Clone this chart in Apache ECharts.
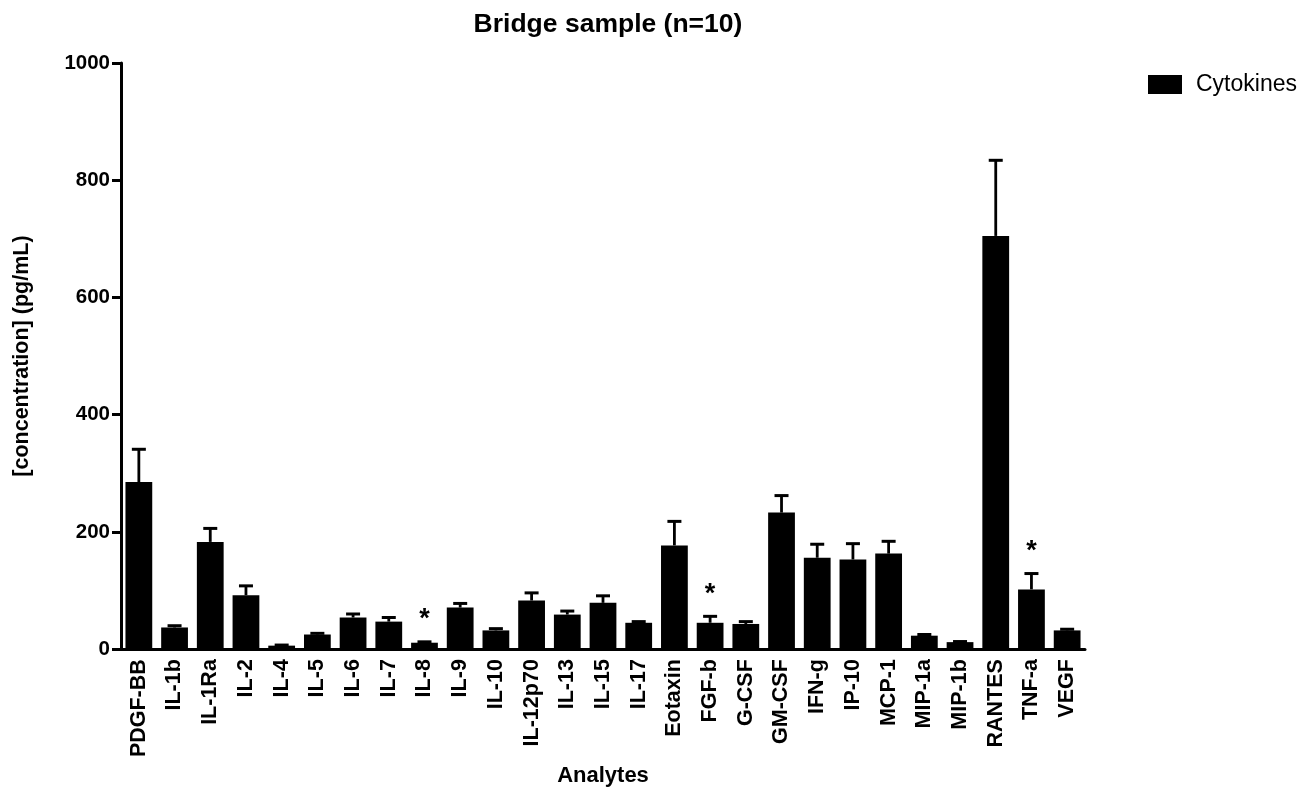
<!DOCTYPE html>
<html>
<head>
<meta charset="utf-8">
<title>Bridge sample</title>
<script src="https://cdn.jsdelivr.net/npm/echarts@6/dist/echarts.min.js"></script>
<style>
  html, body { margin: 0; padding: 0; background: #fff; }
  #chart { width: 1312px; height: 792px; }
</style>
</head>
<body>
<div id="chart"></div>
<script>
const analytes = ['PDGF-BB', 'IL-1b', 'IL-1Ra', 'IL-2', 'IL-4', 'IL-5', 'IL-6', 'IL-7', 'IL-8', 'IL-9',
  'IL-10', 'IL-12p70', 'IL-13', 'IL-15', 'IL-17', 'Eotaxin', 'FGF-b', 'G-CSF', 'GM-CSF', 'IFN-g',
  'IP-10', 'MCP-1', 'MIP-1a', 'MIP-1b', 'RANTES', 'TNF-a', 'VEGF']
const means = [285, 37, 183, 92, 6, 25, 54, 47, 11, 71,
  32, 83, 59, 79, 45, 177, 45, 43, 233, 156,
  153, 163, 23, 12, 705, 102, 32]
const errors = [56, 3, 23, 16, 1, 2, 6, 7, 1.5, 7,
  3, 13, 6, 12, 2, 41, 11, 4, 29, 23,
  27, 21, 2, 1, 129, 27, 2]
const starred = ['IL-8', 'FGF-b', 'TNF-a']
const yTicks = [0, 200, 400, 600, 800, 1000]

const font = 'Liberation Sans, Arial, sans-serif'
const chart = echarts.init(document.getElementById('chart'))

const option = {
  animation: false,
  title: {
    text: 'Bridge sample (n=10)',
    left: 603,
    top: 6,
    textAlign: 'center',
    textStyle: { fontFamily: font, fontSize: 26.5, fontWeight: 'bold', color: '#000' }
  },
  legend: {
    left: 1143,
    top: 68,
    itemWidth: 34,
    itemHeight: 19,
    icon: 'rect',
    data: ['Cytokines'],
    textStyle: { fontFamily: font, fontSize: 23, color: '#000', padding: [0, 0, 0, 9] }
  },
  grid: { left: 121, right: 227, top: 63, bottom: 142 },
  xAxis: {
    type: 'category',
    data: analytes,
    name: 'Analytes',
    nameLocation: 'middle',
    nameGap: 114,
    nameTextStyle: { fontFamily: font, fontSize: 22, fontWeight: 'bold', color: '#000' },
    axisLine: { lineStyle: { color: '#000', width: 3 } },
    axisTick: { alignWithLabel: true, length: 8, lineStyle: { color: '#000', width: 2.5 } },
    axisLabel: { rotate: 90, interval: 0, margin: 10, fontFamily: font, fontSize: 21.5, fontWeight: 'bold', color: '#000' }
  },
  yAxis: {
    type: 'value',
    min: yTicks[0],
    max: yTicks[yTicks.length - 1],
    interval: 200,
    name: '[concentration] (pg/mL)',
    nameLocation: 'middle',
    nameGap: 88,
    nameTextStyle: { fontFamily: font, fontSize: 21.5, fontWeight: 'bold', color: '#000' },
    axisLine: { show: true, lineStyle: { color: '#000', width: 3 } },
    axisTick: { show: true, length: 9, lineStyle: { color: '#000', width: 3 } },
    axisLabel: {
      margin: 11,
      fontFamily: font, fontSize: 20.5, fontWeight: 'bold', color: '#000',
      formatter: v => String(v)
    },
    splitLine: { show: false }
  },
  series: [
    {
      name: 'Cytokines',
      type: 'bar',
      data: means,
      barWidth: '75%',
      itemStyle: { color: '#000' }
    },
    {
      name: 'errors',
      type: 'custom',
      data: means.map((m, i) => [i, m, m + errors[i]]),
      z: 3,
      renderItem: function (params, api) {
        const i = api.value(0)
        const low = api.coord([i, api.value(1)])
        const high = api.coord([i, api.value(2)])
        const half = 7
        const children = [
          { type: 'line', shape: { x1: low[0], y1: low[1], x2: high[0], y2: high[1] }, style: { stroke: '#000', lineWidth: 2.8 } },
          { type: 'line', shape: { x1: high[0] - half, y1: high[1], x2: high[0] + half, y2: high[1] }, style: { stroke: '#000', lineWidth: 3 } }
        ]
        if (starred.indexOf(analytes[i]) >= 0) {
          children.push({
            type: 'text',
            style: { text: '*', x: high[0], y: high[1] - 22, align: 'center', verticalAlign: 'middle', fontFamily: font, fontSize: 27, fontWeight: 'bold', fill: '#000' }
          })
        }
        return { type: 'group', children: children }
      }
    }
  ]
}

chart.setOption(option)
</script>
</body>
</html>
